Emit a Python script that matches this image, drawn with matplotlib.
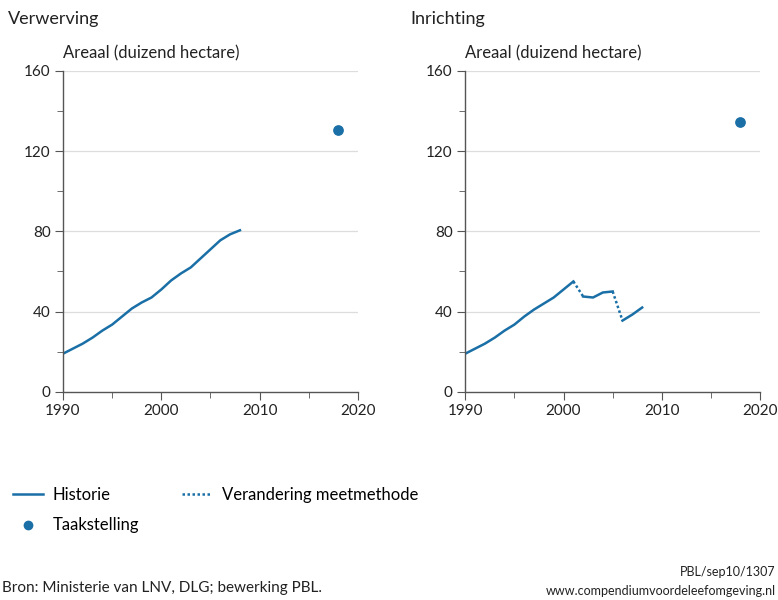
import matplotlib.pyplot as plt
from matplotlib.lines import Line2D

plt.rcParams['font.family'] = ['Lato', 'DejaVu Sans']

# Data (duizend hectare)
years = list(range(1990, 2009))
verwerving = [19, 21.5, 24, 27, 30.5, 33.5, 37.5, 41.5, 44.5, 47, 51, 55.5, 59, 62, 66.5, 71, 75.5, 78.5, 80.5]
inrichting_a_years = list(range(1990, 2002))
inrichting_a = [19, 21.5, 24, 27, 30.5, 33.5, 37.5, 41, 44, 47, 51, 55]
inrichting_b_years = [2002, 2003, 2004, 2005]
inrichting_b = [47.5, 47, 49.5, 50]
inrichting_c_years = [2006, 2007, 2008]
inrichting_c = [35.5, 38.5, 42]
taak_year = 2018
taak_verwerving = 130.5
taak_inrichting = 134.5

blue = '#1a6fa6'
dark = '#555555'
txt = '#222222'

fig = plt.figure(figsize=(7.78, 6), dpi=100)
ax1 = fig.add_axes([0.081, 0.347, 0.379, 0.535])
ax2 = fig.add_axes([0.598, 0.347, 0.379, 0.535])


def style(ax):
    ax.set_xlim(1990, 2020)
    ax.set_ylim(0, 160)
    ax.set_xticks([1990, 2000, 2010, 2020])
    ax.set_xticks([1995, 2005, 2015], minor=True)
    ax.set_yticks([0, 40, 80, 120, 160])
    ax.set_yticks([20, 60, 100, 140], minor=True)
    for y in [40, 80, 120, 160]:
        ax.axhline(y, color='#dddddd', lw=0.9, zorder=0)
    for s in ['top', 'right']:
        ax.spines[s].set_visible(False)
    for s in ['left', 'bottom']:
        ax.spines[s].set_color(dark)
        ax.spines[s].set_linewidth(1.0)
    ax.tick_params(axis='both', which='major', length=6, color=dark, labelsize=11, labelcolor=txt, pad=3)
    ax.tick_params(axis='both', which='minor', length=4, color=dark)
    ax.text(0, 1.03, 'Areaal (duizend hectare)', transform=ax.transAxes, fontsize=12, color=txt, va='bottom')


style(ax1)
style(ax2)

ax1.plot(years, verwerving, color=blue, lw=1.8)
ax1.scatter([taak_year], [taak_verwerving], color=blue, s=45, zorder=5)

ax2.plot(inrichting_a_years, inrichting_a, color=blue, lw=1.8)
ax2.plot(inrichting_b_years, inrichting_b, color=blue, lw=1.8)
ax2.plot(inrichting_c_years, inrichting_c, color=blue, lw=1.8)
ax2.plot([inrichting_a_years[-1], inrichting_b_years[0]], [inrichting_a[-1], inrichting_b[0]],
         color=blue, lw=1.8, linestyle=(0, (1, 1)))
ax2.plot([inrichting_b_years[-1], inrichting_c_years[0]], [inrichting_b[-1], inrichting_c[0]],
         color=blue, lw=1.8, linestyle=(0, (1, 1)))
ax2.scatter([taak_year], [taak_inrichting], color=blue, s=45, zorder=5)

# Panel titles
fig.text(0.010, 0.968, 'Verwerving', fontsize=13, color=txt, va='center')
fig.text(0.528, 0.968, 'Inrichting', fontsize=13, color=txt, va='center')

# Legend
handles = [Line2D([], [], color=blue, lw=1.8),
           Line2D([], [], color=blue, lw=1.8, linestyle=(0, (1, 1))),
           Line2D([], [], color=blue, marker='o', linestyle='none', markersize=6)]
labels = ['Historie', 'Verandering meetmethode', 'Taakstelling']
leg = fig.legend([handles[0], handles[2], handles[1]], [labels[0], labels[2], labels[1]],
                 loc='upper left', bbox_to_anchor=(-0.003, 0.213), ncol=2, frameon=False,
                 fontsize=12, handlelength=1.8, columnspacing=2.6, handletextpad=0.6,
                 labelspacing=0.85)

# Footer
fig.text(0.003, 0.013, 'Bron: Ministerie van LNV, DLG; bewerking PBL.', fontsize=11, color=txt)
fig.text(0.997, 0.04, 'PBL/sep10/1307', fontsize=9, color=txt, ha='right')
fig.text(0.997, 0.008, 'www.compendiumvoordeleefomgeving.nl', fontsize=9, color=txt, ha='right')

plt.savefig('out.png', dpi=100)
